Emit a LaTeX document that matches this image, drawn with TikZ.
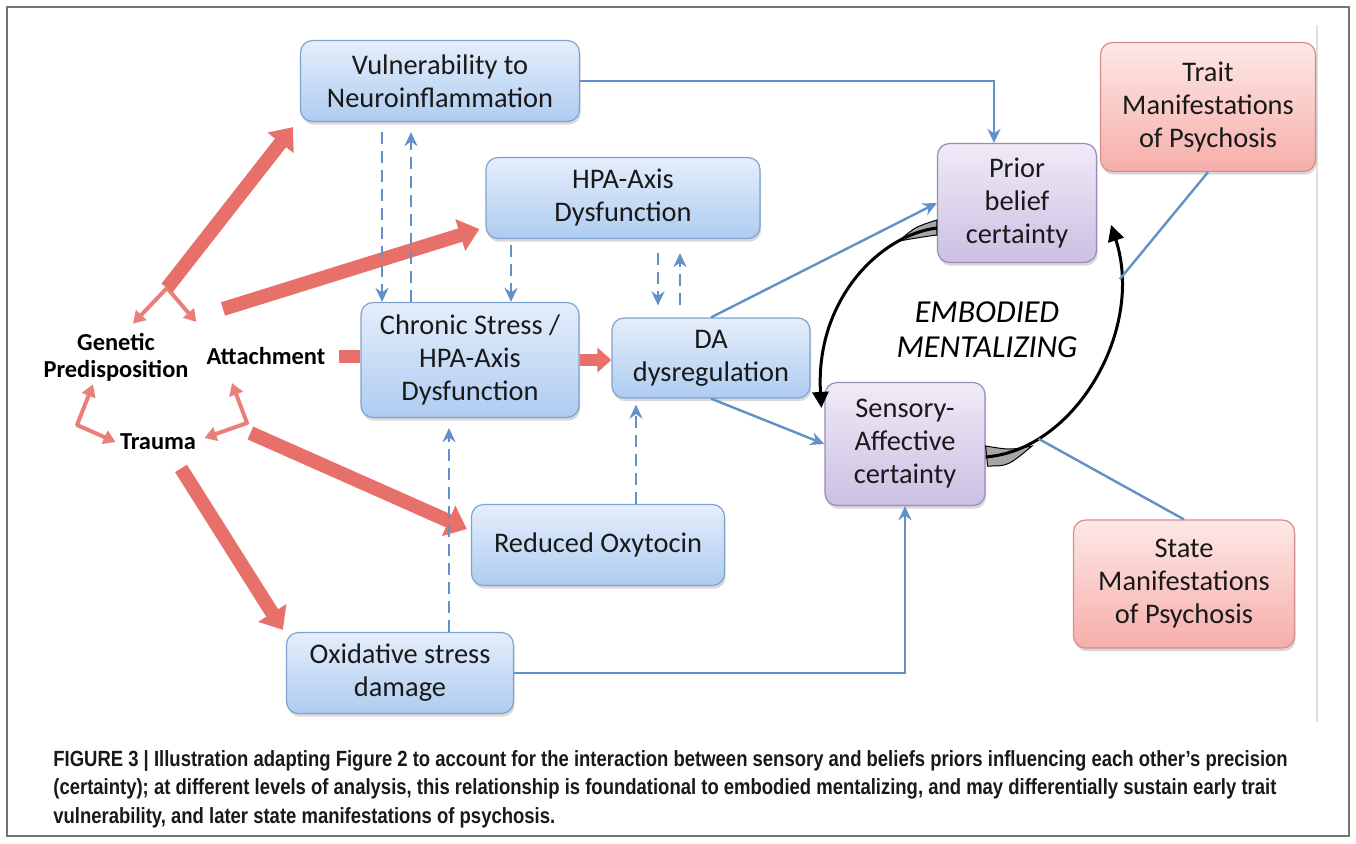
\documentclass[tikz,border=0pt]{standalone}
\usepackage{fontspec}
\setmainfont{Carlito}
\newfontfamily\capfont[FakeStretch=0.84]{Liberation Sans}
\usepackage{tikz}
\usetikzlibrary{arrows.meta,shadows}

\definecolor{bluetop}{RGB}{229,238,251}
\definecolor{bluebot}{RGB}{174,204,241}
\definecolor{blueline}{RGB}{128,162,206}
\definecolor{lilactop}{RGB}{240,235,247}
\definecolor{lilacbot}{RGB}{203,191,227}
\definecolor{lilacline}{RGB}{152,138,186}
\definecolor{pinktop}{RGB}{253,232,230}
\definecolor{pinkbot}{RGB}{246,174,170}
\definecolor{pinkline}{RGB}{214,142,138}
\definecolor{arrowred}{RGB}{232,112,106}
\definecolor{linkblue}{RGB}{98,145,200}

\begin{document}
\begin{tikzpicture}[
    x = 0.5pt, y = -0.5pt, % one unit = one pixel of the figure
    > = {Stealth[length=7pt,width=6.5pt]}, % arrow head style
    link/.style = {draw=linkblue, line width=1.2pt},
    dashlink/.style = {link, dash pattern=on 6pt off 3.5pt},
    fatarrow/.style = {draw=arrowred, line width=7pt, -{Triangle[length=10pt,width=16pt]}},
    redarrow/.style = {draw=arrowred!90, line width=2pt, line join=round},
    swirl/.style = {draw=black, line width=1.5pt, -{Triangle[length=8pt,width=8pt]}},
    swirltail/.style = {fill=black!35, draw=black, line width=0.5pt},
    tag/.style = {inner sep=0pt, align=center, font=\fontsize{12.2}{13.5}\selectfont\bfseries}
    ]

    \tikzset{
    box/.style = {rectangle, rounded corners=6pt, line width=0.6pt, inner sep=0pt,
        align=center, text=black!90, font=\fontsize{14.2}{16.5}\selectfont,
        drop shadow={shadow xshift=0.6pt, shadow yshift=-1.6pt, opacity=0.3}},
    bluebox/.style = {box, draw=blueline, top color=bluetop, bottom color=bluebot},
    lilacbox/.style = {box, draw=lilacline, top color=lilactop, bottom color=lilacbot},
    pinkbox/.style = {box, draw=pinkline, top color=pinktop, bottom color=pinkbot}
    }

    \useasboundingbox (0,0) rectangle (1356,843);
    \draw[black!55, line width=0.7pt] (7,7) rectangle (1349,836);
    \draw[black!12, line width=1pt] (1317,25) -- (1317,722);

    % boxes
    \node[bluebox, minimum width=139.5pt, minimum height=40.5pt] (vul) at (440,81) {Vulnerability to\\Neuroinflammation};
    \node[bluebox, minimum width=137pt, minimum height=40.5pt] (hpa) at (623,198) {HPA-Axis\\Dysfunction};
    \node[bluebox, minimum width=109pt, minimum height=57.5pt] (chr) at (470,360) {Chronic Stress /\\HPA-Axis\\Dysfunction};
    \node[bluebox, minimum width=99pt, minimum height=40pt] (da) at (711,358) {DA\\dysregulation};
    \node[bluebox, minimum width=126.5pt, minimum height=40.5pt] (oxy) at (598,545) {Reduced Oxytocin};
    \node[bluebox, minimum width=113.5pt, minimum height=40.5pt] (oxd) at (400,673) {Oxidative stress\\damage};
    \node[lilacbox, minimum width=79.5pt, minimum height=59.5pt] (pri) at (1017,203) {Prior\\belief\\certainty};
    \node[lilacbox, minimum width=80pt, minimum height=61.5pt] (sen) at (905,444) {Sensory-\\Affective\\certainty};
    \node[pinkbox, minimum width=107.5pt, minimum height=64.5pt] (trt) at (1208,107) {Trait\\Manifestations\\of Psychosis};
    \node[pinkbox, minimum width=110.5pt, minimum height=64pt] (sta) at (1184,584) {State\\Manifestations\\of Psychosis};

    % origins
    \node[tag] (gen) at (116,357) {Genetic\\Predisposition};
    \node[tag] (att) at (266,356) {Attachment};
    \node[tag] (trm) at (158,442) {Trauma};
    \node[inner sep=0pt, align=center, font=\fontsize{16}{17.5}\selectfont\itshape] (emb) at (987,330) {EMBODIED\\MENTALIZING};

    \coordinate (fork) at (167,288);
    \coordinate (gtc) at (77,425);
    \coordinate (atc) at (247,423);

    % red arrows
    \draw[redarrow, -{Triangle[length=6pt,width=7pt]}] (fork) -- ([xshift=8.5pt,yshift=4.5pt]gen.north);
    \draw[redarrow, -{Triangle[length=6pt,width=7pt]}] (fork) -- ([xshift=-5pt,yshift=12.5pt]att.north west);
    \draw[redarrow, {Triangle[length=6pt,width=7pt]}-{Triangle[length=6pt,width=7pt]}] ([xshift=-11.5pt,yshift=-1.5pt]gen.south) -- (gtc) -- ([xshift=-2pt]trm.west);
    \draw[redarrow, {Triangle[length=6pt,width=7pt]}-{Triangle[length=6pt,width=7pt]}] ([xshift=-17pt,yshift=-9pt]att.south) -- (atc) -- ([xshift=4pt,yshift=2pt]trm.east);
    \draw[fatarrow] (fork) -- ([xshift=-3.5pt,yshift=-2.5pt]vul.south west);
    \draw[fatarrow] ([xshift=-21.5pt,yshift=19pt]att.north) -- ([xshift=-3pt,yshift=5pt]hpa.south west);
    \draw[fatarrow] ([xshift=27pt,yshift=4.5pt]trm.east) -- ([xshift=-2pt,yshift=8pt]oxy.west);
    \draw[fatarrow] ([xshift=11.5pt,yshift=-9pt]trm.south) -- ([xshift=-1.5pt,yshift=1pt]oxd.north west);
    \draw[draw=arrowred, line width=6.5pt] ([xshift=6.5pt]att.east) -- (att.east -| chr.west);
    \draw[draw=arrowred, line width=6pt, -{Triangle[length=7pt,width=12pt]}] (chr.east) -- (chr.east -| da.west);

    % dashed links
    \draw[dashlink,->,shorten <=5pt] (382,0 |- vul.south) -- (382,0 |- chr.north);
    \draw[dashlink,->,shorten >=5pt] (411,0 |- chr.north) -- (411,0 |- vul.south);
    \draw[dashlink,->,shorten <=3pt] (511,0 |- hpa.south) -- (511,0 |- chr.north);
    \draw[dashlink,->,shorten <=7pt,shorten >=6pt] (658,0 |- hpa.south) -- (658,0 |- da.north);
    \draw[dashlink,->,shorten <=6pt,shorten >=7pt] (680,0 |- da.north) -- (680,0 |- hpa.south);
    \draw[dashlink,->,shorten >=5pt] (449,0 |- oxd.north) -- (449,0 |- chr.south);
    \draw[dashlink,->,shorten >=3pt] (636,0 |- oxy.north) -- (636,0 |- da.south);

    % solid links
    \draw[link,->] (vul.east) -| (994,0 |- pri.north);
    \draw[link,->] (oxd.east) -| (sen.south);
    \draw[link,->] (da.north) -- (pri.west);
    \draw[link,->] (da.south) -- (sen.west);

    % embodied mentalizing loop
    \filldraw[swirltail] ([yshift=-8.5pt]pri.west) -- ([yshift=-16pt]pri.west) .. controls (922,237) .. (899,241) .. controls (915,227) .. cycle;
    \draw[swirl] ([yshift=-12.5pt]pri.west) .. controls (880,235) and (815,300) .. ([xshift=-1.5pt,yshift=-13pt]sen.north west);
    \filldraw[swirltail] ([yshift=-1pt]sen.east) -- ([xshift=1pt,yshift=-11pt]sen.east) .. controls (1008,466) .. (1032,446) .. controls (1010,450) .. cycle;
    \draw[swirl] ([yshift=-6.5pt]sen.east) .. controls (1075,450) and (1145,330) .. ([xshift=7pt,yshift=-11pt]pri.east)
        coordinate[pos=0.21] (stateend) coordinate[pos=0.83] (traitend);
    \draw[link] (trt.south) -- (traitend);
    \draw[link] (sta.north) -- (stateend);

    % caption
    \node[anchor=north west, align=left, inner sep=0pt, text=black!90,
        font=\capfont\bfseries\fontsize{11}{14.25}\selectfont] (cap) at (53,750)
        {FIGURE 3 | Illustration adapting Figure 2 to account for the interaction between sensory and beliefs priors influencing each other’s precision\\
        (certainty); at different levels of analysis, this relationship is foundational to embodied mentalizing, and may differentially sustain early trait\\
        vulnerability, and later state manifestations of psychosis.};
\end{tikzpicture}
\end{document}
